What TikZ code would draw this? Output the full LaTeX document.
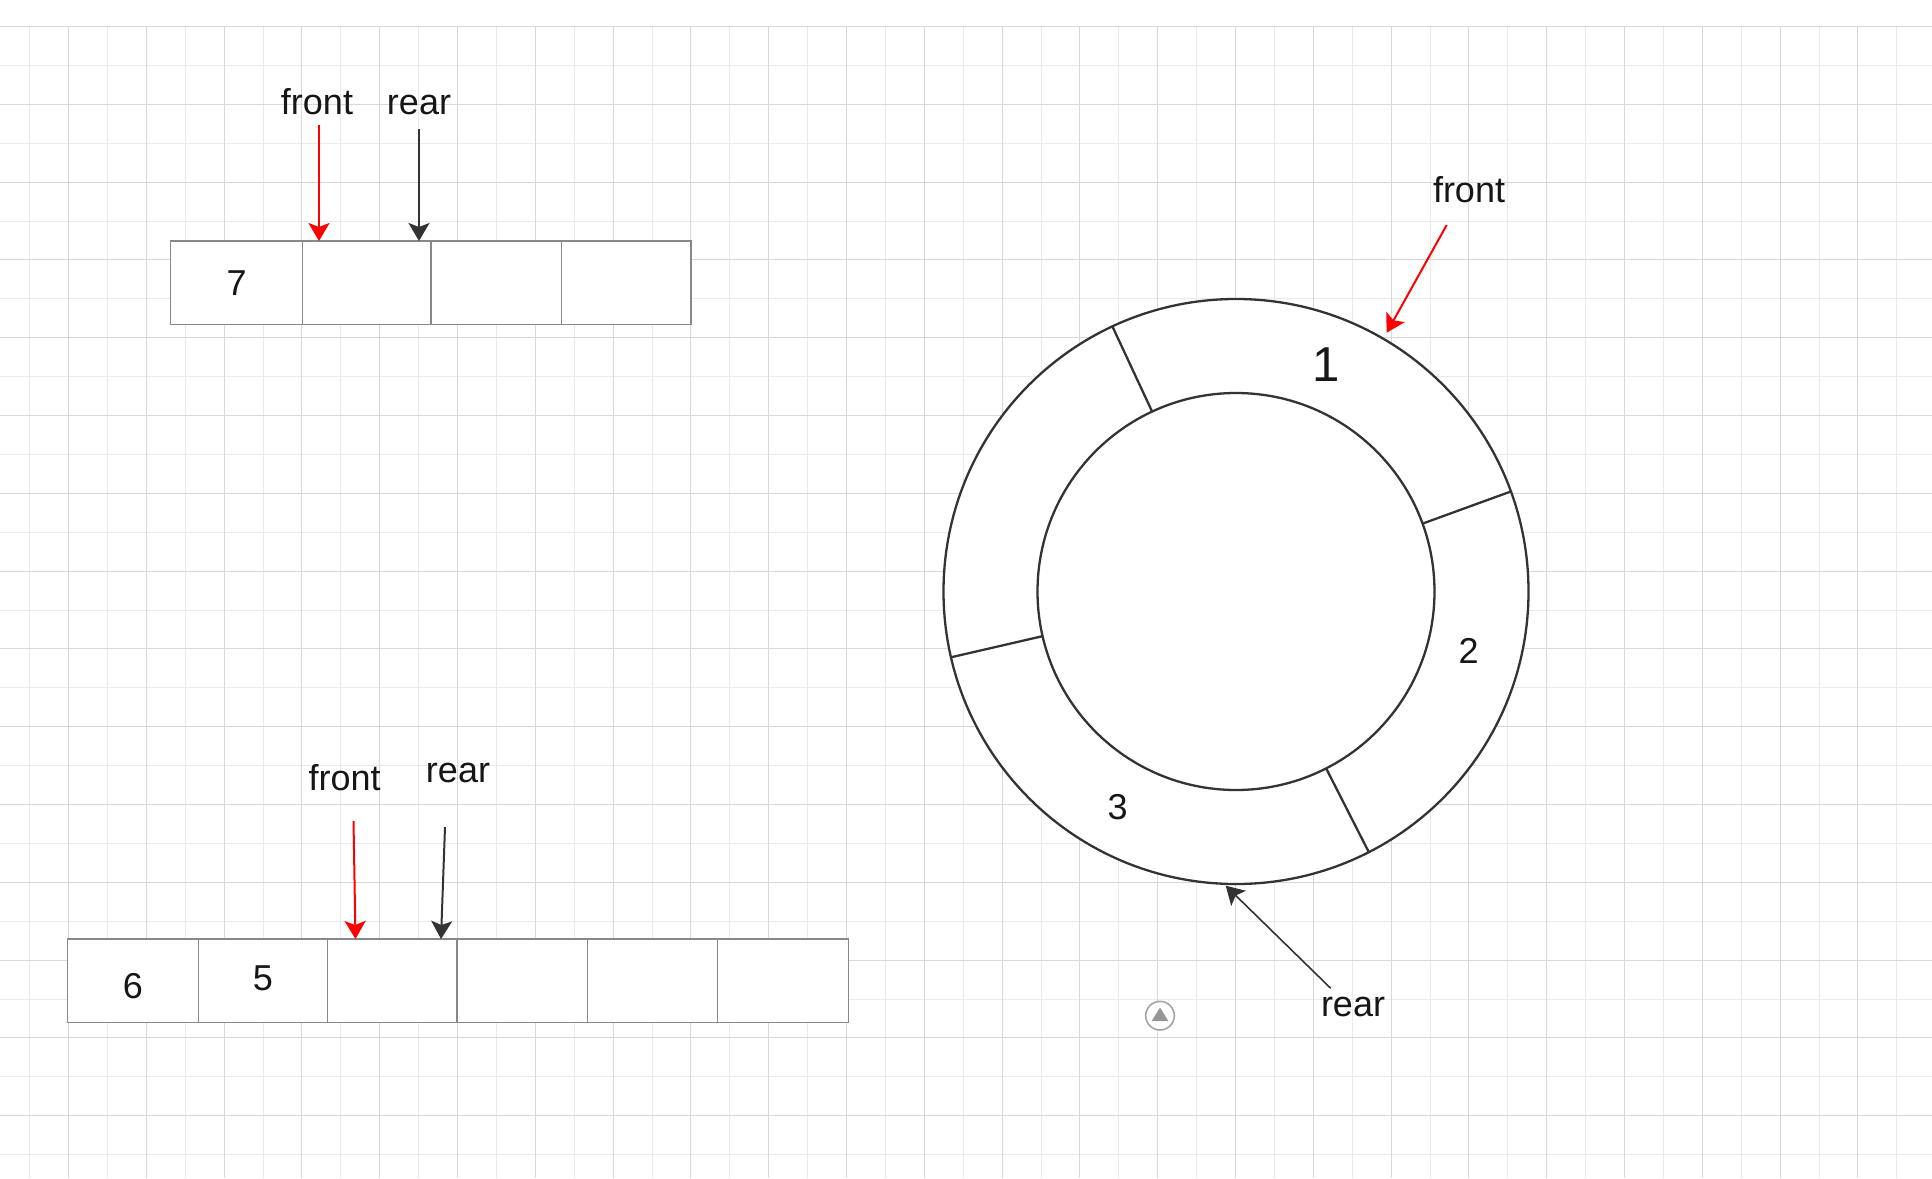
\documentclass[tikz,border=0pt]{standalone}
\usepackage{fontspec}
\setmainfont{Liberation Sans}
\usetikzlibrary{arrows.meta,calc}
\definecolor{gridmajor}{RGB}{216,216,216}
\definecolor{gridminor}{RGB}{234,234,234}
\definecolor{cellgray}{RGB}{136,136,136}
\definecolor{ink}{RGB}{51,51,51}
\definecolor{txt}{RGB}{22,22,22}
\definecolor{icongray}{RGB}{165,165,165}
\definecolor{icontri}{RGB}{150,150,150}
\tikzset{
  minorline/.style={draw=gridminor, line width=0.5pt},
  majorline/.style={draw=gridmajor, line width=0.5pt},
  cellbox/.style={draw=cellgray, fill=white, line width=0.7pt, inner sep=0pt, outer sep=0pt, minimum height=41.8pt},
  lbl/.style={font=\fontsize{18}{21}\selectfont, text=txt, inner sep=0pt, anchor=base},
  num/.style={font=\fontsize{18}{21}\selectfont, text=txt, inner sep=0pt},
  bignum/.style={font=\fontsize{24.5}{28}\selectfont, text=txt, inner sep=0pt},
  redarrow/.style={draw=red, line width=1pt, -{Stealth[length=9pt, width=10.5pt, inset=2pt]}},
  inkarrow/.style={draw=ink, line width=1pt, -{Stealth[length=9pt, width=10.5pt, inset=2pt]}},
  ring/.style={circle, draw=ink, fill=white, line width=1.15pt, inner sep=0pt, outer sep=0pt},
  divider/.style={draw=ink, line width=1.15pt},
}
\begin{document}
\begin{tikzpicture}[x=0.5pt,y=-0.5pt]
\useasboundingbox (0,0) rectangle (1932,1178);
\fill[white] (0,0) rectangle (1932,1178);
% grid (snapped to pixel centres)
\foreach \k in {0,...,24} {
  \pgfmathsetmacro\xx{round(29.1+77.8*\k)+0.5}
  \draw[minorline] (\xx,26) -- (\xx,1178);
}
\foreach \k in {0,...,14} {
  \pgfmathsetmacro\yy{round(64.9+77.8*\k)+0.5}
  \draw[minorline] (0,\yy) -- (1932,\yy);
}
\foreach \k in {0,...,23} {
  \pgfmathsetmacro\xx{round(68+77.8*\k)+0.5}
  \draw[majorline] (\xx,26) -- (\xx,1178);
}
\foreach \k in {0,...,14} {
  \pgfmathsetmacro\yy{round(26+77.8*\k)+0.5}
  \draw[majorline] (0,\yy) -- (1932,\yy);
}

% top array
\node[cellbox, minimum width=66pt]    (t1) at (236.7,282.75) {};
\node[cellbox, minimum width=64.15pt] (t2) at (366.85,282.75) {};
\node[cellbox, minimum width=65.15pt] (t3) at (496.15,282.75) {};
\node[cellbox, minimum width=64.85pt] (t4) at (626.15,282.75) {};
\node[num] (n7) at (t1.center) {7};

\node[lbl] (tfront) at (317,114) {front};
\node[lbl] (trear) at (419,114) {rear};
\coordinate (tfs) at (319,125);
\coordinate (tfe) at (319,241);
\coordinate (trs) at (419,129);
\coordinate (tre) at (419,241);
\draw[redarrow] (tfs) -- (tfe);
\draw[inkarrow] (trs) -- (tre);

% bottom array
\node[cellbox, minimum width=65.7pt]  (b1) at (132.9,980.85) {};
\node[cellbox, minimum width=64.3pt]  (b2) at (262.9,980.85) {};
\node[cellbox, minimum width=64.85pt] (b3) at (392.05,980.85) {};
\node[cellbox, minimum width=65.15pt] (b4) at (522.05,980.85) {};
\node[cellbox, minimum width=65.15pt] (b5) at (652.35,980.85) {};
\node[cellbox, minimum width=65.45pt] (b6) at (782.95,980.85) {};
\node[num] (n6) at (133,986) {6};
\node[num] (n5) at (263,978) {5};

\node[lbl] (bfront) at (344.6,790) {front};
\node[lbl] (brear) at (458,782.3) {rear};
\coordinate (bfs) at (353.5,821);
\coordinate (bfe) at (355.5,939);
\coordinate (brs) at (445,827);
\coordinate (bre) at (441,939);
\draw[redarrow] (bfs) -- (bfe);
\draw[inkarrow] (brs) -- (bre);

% ring
\node[ring, minimum size=292.5pt] (outer) at (1236,591.5) {};
\node[ring, minimum size=198.5pt] (inner) at (1236,591.5) {};
\draw[divider] (outer.115) -- (inner.115);
\draw[divider] (outer.20) -- (inner.20);
\draw[divider] (outer.193.5) -- (inner.193.5);
\draw[divider] (outer.297.3) -- (inner.297.3);
\node[bignum] (n1) at (1326,365) {1};
\node[num] (n2) at (1468.7,650.5) {2};
\node[num] (n3) at (1117.5,807) {3};

\node[lbl] (cfront) at (1469,202.3) {front};
\node[lbl] (crear) at (1353,1016.7) {rear};
\coordinate (cfs) at (1446.7,225);
\coordinate (cfe) at (1386.7,332.7);
\coordinate (crs) at (1330.7,988.3);
\coordinate (cre) at (1225.7,885.7);
\draw[redarrow] (cfs) -- (cfe);
\draw[inkarrow, line width=0.8pt] (crs) -- (cre);

% small icon
\node[circle, draw=icongray, line width=0.8pt, fill=white, minimum size=14.3pt, inner sep=0pt] (icon) at (1160,1015.7) {};
\fill[icontri] (1160,1007.5) -- (1168.3,1021) -- (1151.7,1021) -- cycle;
\end{tikzpicture}
\end{document}
